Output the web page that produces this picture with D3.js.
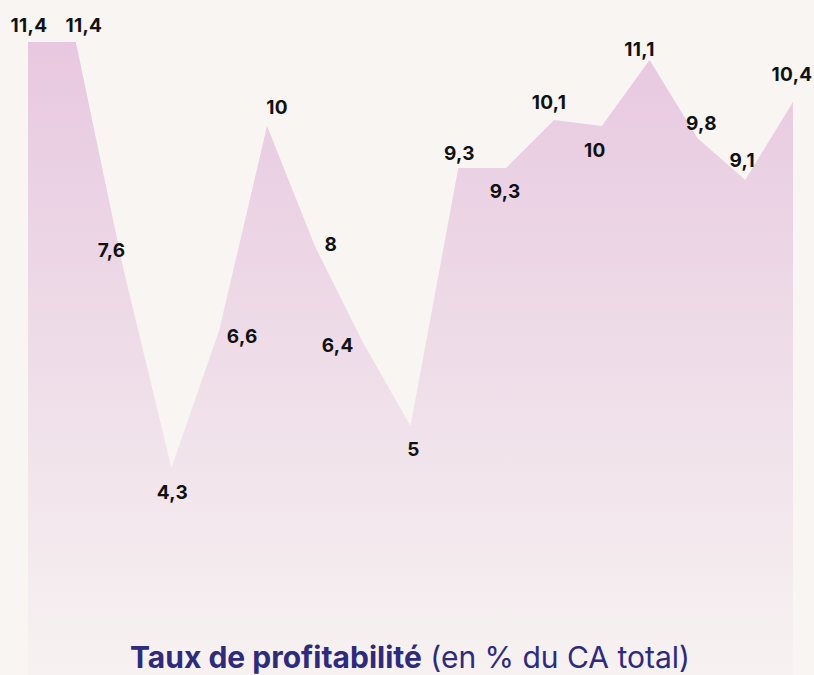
<!DOCTYPE html>
<html>
<head>
<meta charset="utf-8">
<script src="https://cdn.jsdelivr.net/npm/d3@7"></script>
<style>
  html, body { margin: 0; padding: 0; background: #f9f5f2; }
  svg { display: block; }
</style>
</head>
<body>
<div id="chart"></div>
<script>
// profitability values, one per period
var values = [11.4, 11.4, 7.6, 4.3, 6.6, 10, 8, 6.4, 5, 9.3, 9.3, 10.1, 10, 11.1, 9.8, 9.1, 10.4];
var valueLabels = ["11,4", "11,4", "7,6", "4,3", "6,6", "10", "8", "6,4", "5", "9,3", "9,3", "10,1", "10", "11,1", "9,8", "9,1", "10,4"];

var titleBold = "Taux de profitabilité";
var titleRest = " (en % du CA total)";

var width = 814;
var height = 675;

// where each label sits relative to its point (dx, dy)
var labelOffsets = [
  [1, -17], [8, -17], [-12, -20], [1, 24], [23, 6], [10, -19], [16, -2], [-25, 3],
  [3, 23], [1, -15], [-1, 23], [-5, -18], [-7, 24], [-10, -11], [4, -15], [-3, -20], [-1, -28]
];

var svg = d3.select("#chart").append("svg")
    .attr("width", width)
    .attr("height", height);

svg.append("rect")
    .attr("width", width)
    .attr("height", height)
    .attr("fill", "#f9f5f2");

var x = d3.scaleLinear()
    .domain([0, values.length - 1])
    .range([28, 793]);

var y = d3.scaleLinear()
    .domain([0, 11.4])
    .range([726, 42]);

var defs = svg.append("defs");
var grad = defs.append("linearGradient")
    .attr("id", "fade")
    .attr("gradientUnits", "userSpaceOnUse")
    .attr("x1", 0).attr("y1", 42)
    .attr("x2", 0).attr("y2", 675);
grad.append("stop").attr("offset", "0%").attr("stop-color", "#e8c8e0");
grad.append("stop").attr("offset", "55%").attr("stop-color", "#efdfe9");
grad.append("stop").attr("offset", "100%").attr("stop-color", "#f7f2f1");

var area = d3.area()
    .x(function (d, i) { return x(i); })
    .y0(height)
    .y1(function (d) { return y(d); });

svg.append("path")
    .datum(values)
    .attr("d", area)
    .attr("fill", "url(#fade)");

svg.selectAll("text.val")
    .data(values)
    .enter()
    .append("text")
    .attr("class", "val")
    .attr("x", function (d, i) { return x(i) + labelOffsets[i][0]; })
    .attr("y", function (d, i) { return y(d) + labelOffsets[i][1]; })
    .attr("text-anchor", "middle")
    .attr("dominant-baseline", "central")
    .style("font-family", "Inter, 'DejaVu Sans', sans-serif")
    .style("font-weight", "700")
    .style("font-size", "19px")
    .style("letter-spacing", "0.3px")
    .style("fill", "#111")
    .text(function (d, i) { return valueLabels[i]; });

var title = svg.append("text")
    .attr("x", 410)
    .attr("y", 668)
    .attr("text-anchor", "middle")
    .style("font-family", "Inter, 'DejaVu Sans', sans-serif")
    .style("font-size", "30px")
    .style("fill", "#2e2a7c");
title.append("tspan").style("font-weight", "700").text(titleBold);
title.append("tspan").style("font-weight", "400").text(titleRest);
</script>
</body>
</html>
